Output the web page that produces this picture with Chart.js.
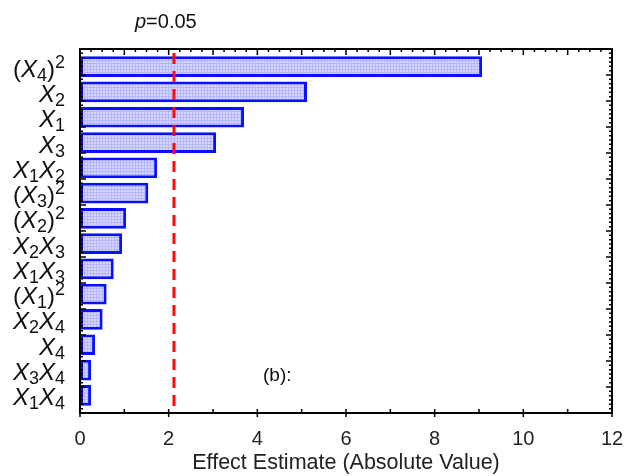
<!DOCTYPE html>
<html>
<head>
<meta charset="utf-8">
<script src="https://cdn.jsdelivr.net/npm/chart.js@4"></script>
<style>
  html, body { margin: 0; padding: 0; background: #fff; }
  #wrap { width: 630px; height: 476px; }
</style>
</head>
<body>
<div id="wrap"><canvas id="myChart" width="630" height="476"></canvas></div>
<script>
// Pareto chart of effects, (b)
// term labels: X = italic, _n = subscript, ^n = superscript
const terms = ['(X_4)^2', 'X_2', 'X_1', 'X_3', 'X_1X_2', '(X_3)^2', '(X_2)^2',
               'X_2X_3', 'X_1X_3', '(X_1)^2', 'X_2X_4', 'X_4', 'X_3X_4', 'X_1X_4'];
const effects = [9.07, 5.12, 3.70, 3.07, 1.74, 1.54, 1.04, 0.95, 0.76, 0.60, 0.51, 0.34, 0.25, 0.25];
const xTicks = [0, 2, 4, 6, 8, 10, 12];
const threshold = 2.12; // p = 0.05 line

const FONT = 'Arial, "Liberation Sans", sans-serif';

// small dotted fill like the original hatch
function makePattern() {
    const c = document.createElement('canvas');
    c.width = 3; c.height = 3;
    const g = c.getContext('2d');
    g.fillStyle = 'rgb(214,214,255)';
    g.fillRect(0, 0, 3, 3);
    g.fillStyle = 'rgb(182,182,255)';
    g.fillRect(0, 0, 1, 3);
    g.fillRect(0, 0, 3, 1);
    return g.createPattern(c, 'repeat');
}

// split a term into pieces for drawing
function parseTerm(s) {
    const parts = [];
    for (let i = 0; i < s.length; i++) {
        const ch = s[i];
        if (ch === '_') { parts.push({ t: s[++i], kind: 'sub' }); }
        else if (ch === '^') { parts.push({ t: s[++i], kind: 'sup' }); }
        else if (ch === 'X') { parts.push({ t: 'X', kind: 'ital' }); }
        else { parts.push({ t: ch, kind: 'norm' }); }
    }
    return parts;
}

function fontFor(kind) {
    if (kind === 'ital') return 'italic 24px ' + FONT;
    if (kind === 'sub' || kind === 'sup') return '18px ' + FONT;
    return '24px ' + FONT;
}

const decorations = {
    id: 'decorations',
    afterDatasetsDraw(chart) {
        const ctx = chart.ctx;
        const area = chart.chartArea;
        const x = chart.scales.x;
        const y = chart.scales.y;
        ctx.save();

        // threshold line
        const tx = x.getPixelForValue(threshold);
        ctx.strokeStyle = '#ff0a0a';
        ctx.lineWidth = 3;
        ctx.setLineDash([11, 7]);
        ctx.beginPath();
        ctx.moveTo(tx, area.top + 4);
        ctx.lineTo(tx, area.bottom);
        ctx.stroke();
        ctx.setLineDash([]);

        // frame
        ctx.strokeStyle = '#000';
        ctx.lineWidth = 2;
        ctx.strokeRect(area.left, area.top, area.right - area.left, area.bottom - area.top);

        // x ticks, bottom (every 1, longer at 2) and top (every 0.25, longer at 1)
        ctx.lineWidth = 1.5;
        for (let v = 0; v <= 12; v += 0.25) {
            const px = x.getPixelForValue(v);
            ctx.beginPath();
            if (v % 1 === 0) {
                const major = v % 2 === 0;
                ctx.moveTo(px, area.bottom - 4);
                ctx.lineTo(px, area.bottom + (major ? 4 : 0));
                ctx.moveTo(px, area.top);
                ctx.lineTo(px, area.top + 6);
            } else {
                ctx.moveTo(px, area.top);
                ctx.lineTo(px, area.top + 3);
            }
            ctx.stroke();
        }

        // y ticks, left and right
        const n = 84;
        const step = (area.bottom - area.top) / n;
        for (let i = 1; i < n; i++) {
            const py = area.top + i * step;
            const len = i % 6 === 0 ? 6 : 3;
            ctx.beginPath();
            ctx.moveTo(area.left, py);
            ctx.lineTo(area.left + len, py);
            ctx.moveTo(area.right, py);
            ctx.lineTo(area.right - len, py);
            ctx.stroke();
        }

        // term labels
        ctx.fillStyle = '#111';
        ctx.textBaseline = 'alphabetic';
        ctx.textAlign = 'left';
        terms.forEach((term, i) => {
            const parts = parseTerm(term);
            let w = 0;
            parts.forEach(p => { ctx.font = fontFor(p.kind); p.w = ctx.measureText(p.t).width; w += p.w; });
            let cx = 65 - w;
            const base = y.getPixelForValue(i) + 10;
            parts.forEach(p => {
                ctx.font = fontFor(p.kind);
                let dy = 0;
                if (p.kind === 'sub') dy = 4;
                if (p.kind === 'sup') dy = -9;
                ctx.fillText(p.t, cx, base + dy);
                cx += p.w;
            });
        });

        // p = 0.05 note
        ctx.font = 'italic 20px ' + FONT;
        ctx.fillStyle = '#111';
        ctx.fillText('p', 135, 28);
        const pw = ctx.measureText('p').width;
        ctx.font = '20px ' + FONT;
        ctx.fillText('=0.05', 135 + pw, 28);

        // panel tag
        ctx.font = '19px ' + FONT;
        ctx.fillText('(b):', 263, 381);

        ctx.restore();
    }
};

const ctx = document.getElementById('myChart').getContext('2d');
const myChart = new Chart(ctx, {
    type: 'bar',
    data: {
        datasets: [{
            data: effects.map((v, i) => ({ x: v, y: i })),
            backgroundColor: makePattern(),
            borderColor: '#0a10ff',
            borderWidth: 3,
            borderSkipped: false,
            barPercentage: 0.82,
            categoryPercentage: 1.0,
        }],
    },
    options: {
        indexAxis: 'y',
        responsive: false,
        animation: false,
        layout: { padding: { left: 0, right: 18, top: 49, bottom: 0 } },
        scales: {
            x: {
                type: 'linear',
                min: 0,
                max: 12,
                afterBuildTicks: scale => { scale.ticks = xTicks.map(v => ({ value: v })); },
                grid: { display: false },
                border: { display: false },
                ticks: {
                    color: '#222',
                    font: { size: 20, family: FONT },
                    padding: 6,
                    maxRotation: 0,
                },
                title: {
                    display: true,
                    text: 'Effect Estimate (Absolute Value)',
                    color: '#222',
                    font: { size: 21.5, family: FONT },
                    padding: { top: 0, bottom: 0 },
                },
                afterFit: scale => { scale.height = 63; },
            },
            y: {
                type: 'linear',
                reverse: true,
                offset: false,
                min: -0.7,
                max: terms.length - 0.3,
                afterBuildTicks: scale => { scale.ticks = terms.map((t, i) => ({ value: i })); },
                grid: { display: false, offset: false },
                border: { display: false },
                ticks: { display: false },
                afterFit: scale => { scale.width = 80; },
            },
        },
        plugins: {
            legend: { display: false },
            tooltip: { enabled: false },
        },
    },
    plugins: [decorations],
});
</script>
</body>
</html>
